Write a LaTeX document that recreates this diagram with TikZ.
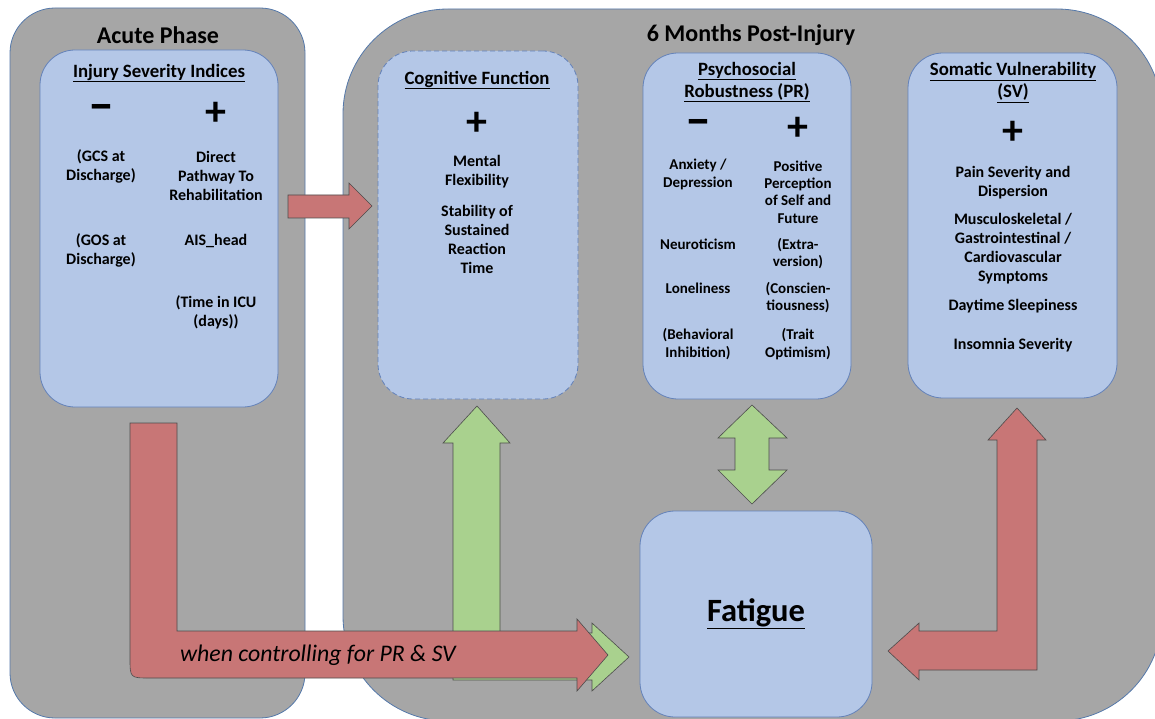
\documentclass[tikz,border=0pt]{standalone}
\usepackage{fontspec}
\setmainfont{Carlito}
\usetikzlibrary{positioning}
\definecolor{panelgray}{RGB}{166,166,166}
\definecolor{panelline}{RGB}{84,120,170}
\definecolor{boxblue}{RGB}{180,199,231}
\definecolor{boxline}{RGB}{100,130,185}
\definecolor{arrowred}{RGB}{200,118,118}
\definecolor{arrowgreen}{RGB}{169,209,142}

\tikzset{
  panel/.style={draw=panelline,fill=panelgray,line width=0.8pt,inner sep=0pt},
  group/.style={draw=boxline,fill=boxblue,line width=0.8pt,rounded corners=35pt,inner sep=0pt},
  heading/.style={font=\bfseries\fontsize{24}{28}\selectfont,inner sep=0pt},
  title/.style={font=\bfseries\fontsize{18.8}{22}\selectfont,align=center,inner sep=0pt},
  plussign/.style={font=\bfseries\fontsize{42}{42}\selectfont,inner sep=0pt},
  minussign/.style={font=\bfseries\fontsize{52}{52}\selectfont,inner sep=0pt},
  item/.style={font=\bfseries\fontsize{16}{19}\selectfont,align=center,inner sep=0pt},
  pritem/.style={font=\bfseries\fontsize{15}{17.3}\selectfont,align=center,inner sep=0pt},
  blockred/.style={draw=black!70,fill=arrowred,line width=0.6pt},
  blockgreen/.style={draw=black!70,fill=arrowgreen,line width=0.6pt}
}

\begin{document}
\begin{tikzpicture}[x=1pt,y=-1pt]
  \useasboundingbox (0,0) rectangle (1155,719);
  \clip (0,0) rectangle (1155,719);

  % the two phases
  \node[panel,rounded corners=105pt,minimum width=819pt,minimum height=712pt] (months) at (752.5,365) {};
  \node[panel,rounded corners=45pt,minimum width=295pt,minimum height=710pt] (acute) at (157.5,363) {};
  \node[heading] (acutehead) at (158,35) {Acute Phase};
  \node[heading] (monthshead) at (751,35) {6 Months Post-Injury};

  % acute phase
  \node[group,minimum width=238pt,minimum height=357pt] (injury) at (159,228.5) {};
  \node[title] (injurytitle) at (159,73) {\underline{Injury Severity Indices}};
  \node[minussign] (injuryminus) at (101,113) {--};
  \node[plussign] (injuryplus) at (216,114) {+};
  \node[item] (gcs) at (101,166) {(GCS at\\Discharge)};
  \node[item] (gos) at (101,250) {(GOS at\\Discharge)};
  \node[item] (pathway) at (216,176) {Direct\\Pathway To\\Rehabilitation};
  \node[item] (ais) at (216,241) {AIS\_head};
  \node[item] (icu) at (216,312) {(Time in ICU\\(days))};

  % cognitive function
  \node[group,dashed,dash pattern=on 5pt off 3pt,minimum width=200pt,minimum height=348pt] (cognitive) at (478,225) {};
  \node[title] (cogtitle) at (477,80) {\underline{Cognitive Function}};
  \node[plussign] (cogplus) at (477,124) {+};
  \node[item] (flexibility) at (477,172) {Mental\\Flexibility};
  \node[item] (stability) at (477,239) {Stability of\\Sustained\\Reaction\\Time};

  % psychosocial robustness
  \node[group,minimum width=208pt,minimum height=346pt] (robust) at (747,226) {};
  \node[title] (prtitle) at (747,82) {\underline{Psychosocial}\\\underline{Robustness (PR)}};
  \node[minussign] (prminus) at (698,128) {--};
  \node[plussign] (prplus) at (798,129) {+};
  \node[pritem] (anxiety) at (698,174.5) {Anxiety /\\Depression};
  \node[pritem] (neuro) at (698,244) {Neuroticism};
  \node[pritem] (lonely) at (698,288) {Loneliness};
  \node[pritem] (inhibit) at (698,344) {(Behavioral\\Inhibition)};
  \node[pritem] (positive) at (798,192) {Positive\\Perception\\of Self and\\Future};
  \node[pritem] (extra) at (798,253.5) {(Extra-\\version)};
  \node[pritem] (conscien) at (798,297.5) {(Conscien-\\tiousness)};
  \node[pritem] (optimism) at (798,344) {(Trait\\Optimism)};

  % somatic vulnerability
  \node[group,minimum width=209pt,minimum height=345pt] (somatic) at (1012.5,225.5) {};
  \node[title] (svtitle) at (1013,82.5) {\underline{Somatic Vulnerability}\\\underline{(SV)}};
  \node[plussign] (svplus) at (1013,133) {+};
  \node[item] (pain) at (1013,182.5) {Pain Severity and\\Dispersion};
  \node[item] (symptoms) at (1013,249) {Musculoskeletal /\\Gastrointestinal /\\Cardiovascular\\Symptoms};
  \node[item] (sleepy) at (1013,306) {Daytime Sleepiness};
  \node[item] (insomnia) at (1013,345) {Insomnia Severity};

  % outcome
  \node[group,minimum width=232pt,minimum height=206pt,font=\bfseries\fontsize{32.5}{38}\selectfont] (fatigue) at (756,614) {\underline{Fatigue}};

  % block arrows
  \draw[blockred] (288,195) -- (349,195) -- (349,183) -- (372,206) -- (349,229) -- (349,218) -- (288,218) -- cycle;
  \draw[blockgreen] (477,406) -- (510,443) -- (500,443) -- (500,633) -- (592,633) -- (592,623) -- (629,657)
    -- (592,691) -- (592,680) -- (453,680) -- (453,443) -- (443,443) -- cycle;
  \draw[blockred] (130,423) -- (177,423) -- (177,631) -- (577,631) -- (577,619) -- (608,655) -- (577,691)
    -- (577,678) -- (150,678) .. controls (130,678) .. (130,658) -- cycle;
  \node[font=\itshape\fontsize{23.8}{28}\selectfont,anchor=west,inner sep=0pt] (control) at (180,655) {when controlling for PR \& SV};
  \draw[blockgreen] (752,405) -- (787,438) -- (769,438) -- (769,470) -- (787,470) -- (752,504) -- (718,470)
    -- (735,470) -- (735,438) -- (718,438) -- cycle;
  \draw[blockred] (1017,408) -- (1046,440) -- (1037,440) -- (1037,670) -- (919,670) -- (919,680) -- (888,651)
    -- (919,623) -- (919,631) -- (997,631) -- (997,440) -- (988,440) -- cycle;
\end{tikzpicture}
\end{document}
